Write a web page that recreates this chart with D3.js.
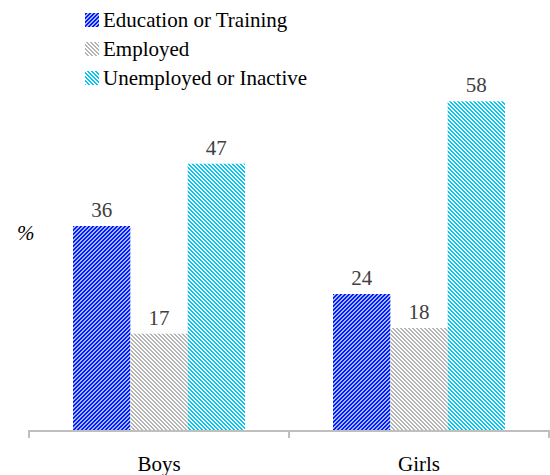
<!DOCTYPE html>
<html><head><meta charset="utf-8">
<script src="https://cdn.jsdelivr.net/npm/d3@7/dist/d3.min.js"></script>
<style>body{margin:0;background:#fff}</style>
</head><body><svg id="c" width="550" height="475"></svg>
<script>
const categories = ["Boys", "Girls"];
const seriesNames = ["Education or Training", "Employed", "Unemployed or Inactive"];
const education = [36, 24];
const employed = [17, 18];
const unemployed = [47, 58];
const series = [education, employed, unemployed];

const FONT = "'Liberation Serif', 'Tinos', 'Times New Roman', 'DejaVu Serif', 'Noto Serif', serif";
const FS = 21;
const svg = d3.select("#c").style("font-family", FONT);
const defs = svg.append("defs");
const pats = [
  {id: "p0", bg: "#0a14ff", fg: "#9dbcff", dir: 1},
  {id: "p1", bg: "#ffffff", fg: "#b4b4b4", dir: -1},
  {id: "p2", bg: "#ffffff", fg: "#00c8f2", dir: -1}
];
pats.forEach(p => {
  const pat = defs.append("pattern").attr("id", p.id).attr("patternUnits", "userSpaceOnUse")
    .attr("width", 4).attr("height", 4);
  pat.append("rect").attr("width", 4).attr("height", 4).attr("fill", p.bg);
  for (let x = 0; x < 4; x++) for (let y = 0; y < 4; y++) {
    const v = p.dir > 0 ? (x + y) % 4 : ((x - y) % 4 + 4) % 4;
    if (v < 2) pat.append("rect").attr("x", x).attr("y", y).attr("width", 1).attr("height", 1).attr("fill", p.fg);
  }
});

const x0 = d3.scaleBand().domain(categories).range([29, 549]);
const x1 = d3.scaleBand().domain(d3.range(series.length)).range([44, x0.bandwidth() - 44]);
const y = d3.scaleLinear().domain([0, 60]).range([430, 90]);

categories.forEach((c, ci) => {
  series.forEach((s, si) => {
    const bx = x0(c) + x1(si);
    svg.append("rect").attr("x", bx).attr("y", y(s[ci])).attr("width", x1.bandwidth())
      .attr("height", y(0) - y(s[ci])).attr("fill", `url(#p${si})`);
    svg.append("text").attr("x", bx + x1.bandwidth() / 2).attr("y", y(s[ci]) - 9)
      .style("font-family", FONT)
      .attr("text-anchor", "middle").attr("font-size", FS).attr("fill", "#404040").text(s[ci]);
  });
});

// axis
const ax = svg.append("g");
ax.append("line").attr("x1", 29).attr("x2", 549).attr("y1", 431).attr("y2", 431)
  .attr("stroke", "#bfbfbf").attr("stroke-width", 2);
[...categories.map(c => x0(c)), 549].forEach(t => {
  ax.append("line").attr("x1", t).attr("x2", t).attr("y1", 430).attr("y2", 438)
    .attr("stroke", "#bfbfbf").attr("stroke-width", 2);
});
categories.forEach(c => {
  svg.append("text").attr("x", x0(c) + x0.bandwidth() / 2).attr("y", 471)
    .style("font-family", FONT)
    .attr("text-anchor", "middle").attr("font-size", FS).attr("fill", "#000").text(c);
});

svg.append("text").attr("x", 17).attr("y", 240).attr("font-style", "italic")
  .style("font-family", FONT)
  .attr("font-size", FS).attr("fill", "#000").text("%");

// legend
seriesNames.forEach((n, i) => {
  const ly = 13 + i * 29;
  svg.append("rect").attr("x", 85).attr("y", ly).attr("width", 14).attr("height", 14)
    .attr("fill", `url(#p${i})`);
  svg.append("text").attr("x", 103).attr("y", ly + 14).attr("font-size", FS)
    .style("font-family", FONT)
    .attr("fill", "#000").text(n);
});
</script></body></html>
